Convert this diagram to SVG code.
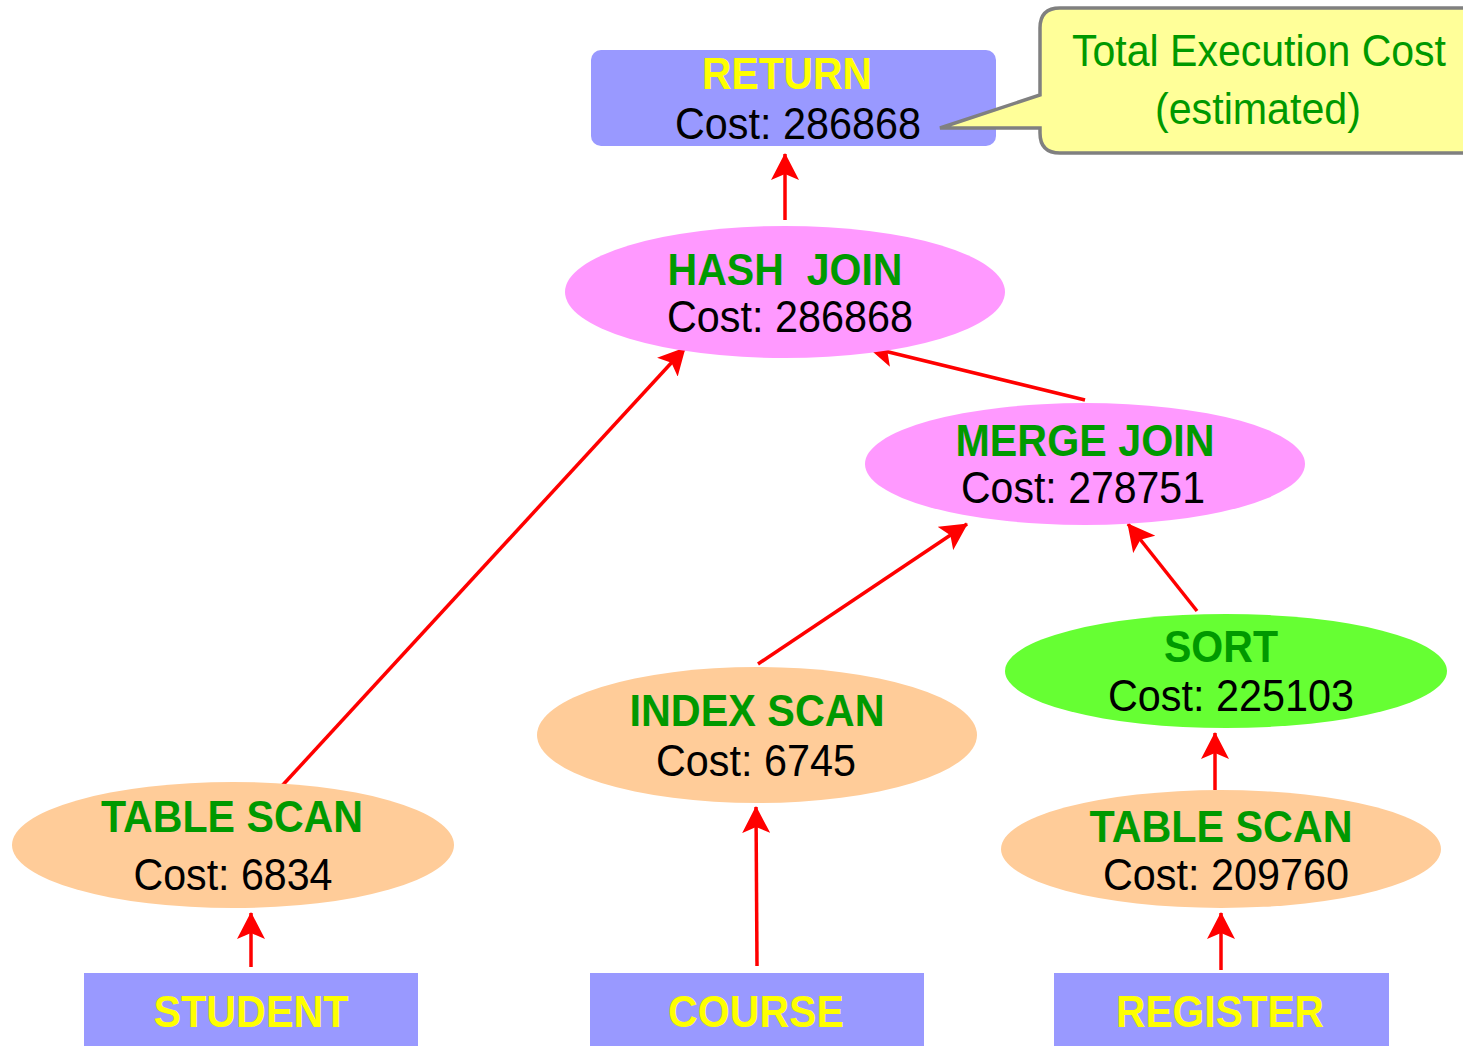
<svg xmlns="http://www.w3.org/2000/svg" width="1463" height="1046" viewBox="0 0 1463 1046">
<style>
  text { font-family: "Liberation Sans", Arial, sans-serif; font-size: 44px; text-anchor: middle; white-space: pre; }
  .title { font-weight: bold; fill: #009900; }
  .ytitle { font-weight: bold; fill: #ffff00; }
  .cost { fill: #000000; }
  .note { fill: #009900; }
  .rectnode { fill: #9999ff; }
  .join { fill: #ff99ff; }
  .scan { fill: #ffcc99; }
  .sort { fill: #66ff33; }
  .edge { stroke: #ff0000; stroke-width: 3.5; fill: none; marker-end: url(#arrow); }
</style>
<defs>
  <marker id="arrow" viewBox="0 0 27 28" refX="26" refY="14" markerWidth="27" markerHeight="28" markerUnits="userSpaceOnUse" orient="auto">
    <path d="M0,0 L27,14 L0,28 L6,14 z" fill="#ff0000"/>
  </marker>
</defs>
<rect width="1463" height="1046" fill="#ffffff"/>

<g id="connectors">
  <line class="edge" x1="785" y1="220" x2="785" y2="154"/>
  <line class="edge" x1="280" y1="788" x2="685" y2="348"/>
  <line class="edge" x1="1085" y1="400" x2="868" y2="347"/>
  <line class="edge" x1="758" y1="664" x2="967" y2="524"/>
  <line class="edge" x1="1197" y1="611" x2="1128" y2="524"/>
  <line class="edge" x1="1215" y1="790" x2="1215" y2="733"/>
  <line class="edge" x1="251" y1="967" x2="251" y2="913"/>
  <line class="edge" x1="757" y1="966" x2="756" y2="807"/>
  <line class="edge" x1="1221" y1="970" x2="1221" y2="913"/>
</g>

<g id="return">
  <rect class="rectnode" x="591" y="50" width="405" height="96" rx="10"/>
  <text class="ytitle" x="787" y="89" textLength="170" lengthAdjust="spacingAndGlyphs">RETURN</text>
  <text class="cost" x="798" y="139" textLength="246" lengthAdjust="spacingAndGlyphs">Cost: 286868</text>
</g>

<g id="callout">
  <path d="M1060,8 L1480,8 L1480,153 L1060,153 Q1040,153 1040,133 L1040,128 L940,128 L1040,95 L1040,28 Q1040,8 1060,8 z" fill="#ffff99" stroke="#808080" stroke-width="3.5" stroke-linejoin="miter"/>
  <text class="note" x="1259" y="66" textLength="374" lengthAdjust="spacingAndGlyphs">Total Execution Cost</text>
  <text class="note" x="1258" y="124" textLength="206" lengthAdjust="spacingAndGlyphs">(estimated)</text>
</g>

<g id="hashjoin">
  <ellipse class="join" cx="785" cy="292" rx="220" ry="66"/>
  <text class="title" x="785" y="285" textLength="235" lengthAdjust="spacingAndGlyphs">HASH  JOIN</text>
  <text class="cost" x="790" y="332" textLength="246" lengthAdjust="spacingAndGlyphs">Cost: 286868</text>
</g>

<g id="mergejoin">
  <ellipse class="join" cx="1085" cy="464" rx="220" ry="61"/>
  <text class="title" x="1085" y="456" textLength="259" lengthAdjust="spacingAndGlyphs">MERGE JOIN</text>
  <text class="cost" x="1083" y="503" textLength="244" lengthAdjust="spacingAndGlyphs">Cost: 278751</text>
</g>

<g id="sort">
  <ellipse class="sort" cx="1226" cy="671" rx="221" ry="57"/>
  <text class="title" x="1221" y="662" textLength="114" lengthAdjust="spacingAndGlyphs">SORT</text>
  <text class="cost" x="1231" y="711" textLength="246" lengthAdjust="spacingAndGlyphs">Cost: 225103</text>
</g>

<g id="indexscan">
  <ellipse class="scan" cx="757" cy="735" rx="220" ry="68"/>
  <text class="title" x="757" y="726" textLength="255" lengthAdjust="spacingAndGlyphs">INDEX SCAN</text>
  <text class="cost" x="756" y="776" textLength="200" lengthAdjust="spacingAndGlyphs">Cost: 6745</text>
</g>

<g id="tablescan1">
  <ellipse class="scan" cx="233" cy="845" rx="221" ry="63"/>
  <text class="title" x="232" y="832" textLength="262" lengthAdjust="spacingAndGlyphs">TABLE SCAN</text>
  <text class="cost" x="233" y="890" textLength="199" lengthAdjust="spacingAndGlyphs">Cost: 6834</text>
</g>

<g id="tablescan2">
  <ellipse class="scan" cx="1221" cy="849" rx="220" ry="59"/>
  <text class="title" x="1221" y="842" textLength="263" lengthAdjust="spacingAndGlyphs">TABLE SCAN</text>
  <text class="cost" x="1226" y="890" textLength="246" lengthAdjust="spacingAndGlyphs">Cost: 209760</text>
</g>

<g id="student">
  <rect class="rectnode" x="84" y="973" width="334" height="80"/>
  <text class="ytitle" x="251" y="1027" textLength="195" lengthAdjust="spacingAndGlyphs">STUDENT</text>
</g>

<g id="course">
  <rect class="rectnode" x="590" y="973" width="334" height="80"/>
  <text class="ytitle" x="756" y="1027" textLength="176" lengthAdjust="spacingAndGlyphs">COURSE</text>
</g>

<g id="register">
  <rect class="rectnode" x="1054" y="973" width="335" height="80"/>
  <text class="ytitle" x="1220" y="1027" textLength="208" lengthAdjust="spacingAndGlyphs">REGISTER</text>
</g>
</svg>
